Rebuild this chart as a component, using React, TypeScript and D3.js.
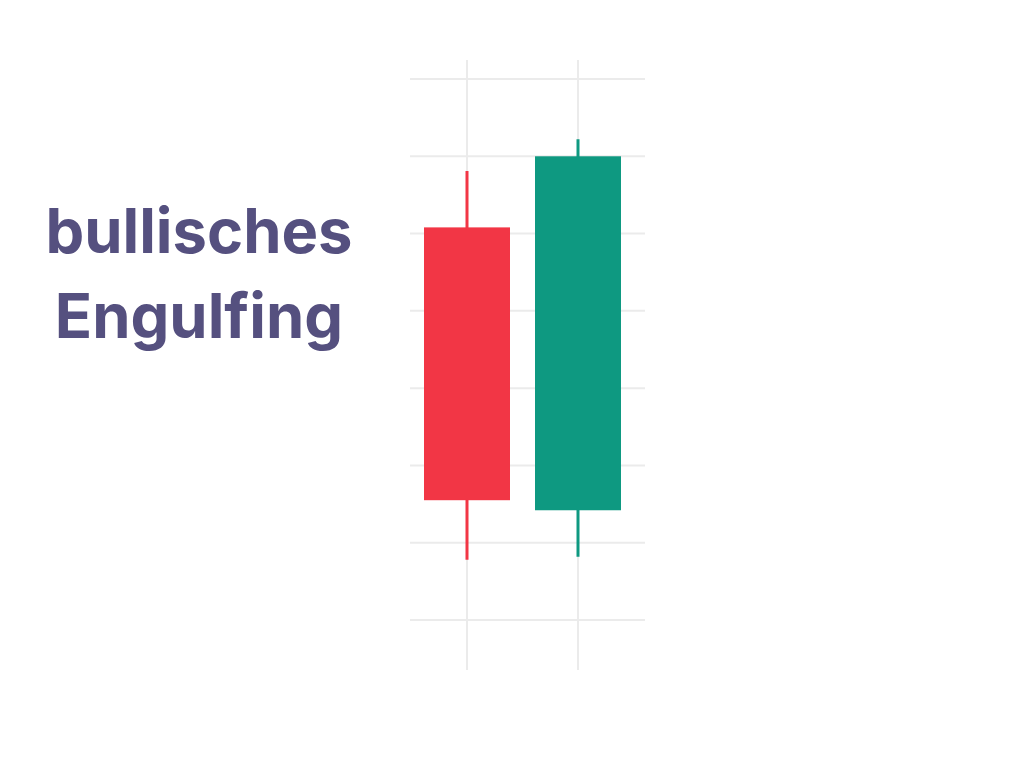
import React, { useEffect, useRef } from 'react';
import * as d3 from 'd3';

// candle data (price units = grid steps)
const candles = ['c1', 'c2'];
const opens = [5.08, 1.42];
const closes = [1.55, 6.0];
const highs = [5.81, 6.22];
const lows = [0.78, 0.82];
const gridTicks = [0, 1, 2, 3, 4, 5, 6, 7];
const titleLines = ['bullisches', 'Engulfing'];

const WIDTH = 1024;
const HEIGHT = 768;

export default function App() {
  const svgRef = useRef<SVGSVGElement>(null);

  useEffect(() => {
    document.body.style.margin = '0';
    if (!svgRef.current) return;

    const svg = d3.select(svgRef.current);
    svg.selectAll('*').remove();

    const x = d3.scalePoint<string>().domain(candles).range([467, 578]);
    const y = d3.scaleLinear().domain([0, 7]).range([620, 79]);
    const bodyWidth = 86;

    // grid
    const grid = svg.append('g').attr('stroke', '#ebebeb').attr('stroke-width', 2);
    grid.selectAll('line.h')
      .data(gridTicks)
      .join('line')
      .attr('class', 'h')
      .attr('x1', 410)
      .attr('x2', 645)
      .attr('y1', d => y(d))
      .attr('y2', d => y(d));
    grid.selectAll('line.v')
      .data(candles)
      .join('line')
      .attr('class', 'v')
      .attr('x1', d => x(d)!)
      .attr('x2', d => x(d)!)
      .attr('y1', 60)
      .attr('y2', 670);

    const color = (i: number) => (closes[i] >= opens[i] ? '#0e9981' : '#f23645');

    const g = svg.append('g');
    candles.forEach((c, i) => {
      g.append('line')
        .attr('x1', x(c)!)
        .attr('x2', x(c)!)
        .attr('y1', y(highs[i]))
        .attr('y2', y(lows[i]))
        .attr('stroke', color(i))
        .attr('stroke-width', 3);
      g.append('rect')
        .attr('x', x(c)! - bodyWidth / 2)
        .attr('width', bodyWidth)
        .attr('y', y(Math.max(opens[i], closes[i])))
        .attr('height', y(Math.min(opens[i], closes[i])) - y(Math.max(opens[i], closes[i])))
        .attr('fill', color(i));
    });

    // title
    svg.append('g')
      .selectAll('text')
      .data(titleLines)
      .join('text')
      .attr('x', 199)
      .attr('y', (d, i) => 253 + i * 85)
      .attr('text-anchor', 'middle')
      .attr('fill', '#55507f')
      .attr('font-family', 'Inter, "Noto Sans", sans-serif')
      .attr('font-weight', 700)
      .attr('font-size', 61.5)
      .text(d => d);
  }, []);

  return (
    <svg
      ref={svgRef}
      width={WIDTH}
      height={HEIGHT}
      style={{ display: 'block', background: '#ffffff' }}
    />
  );
}
